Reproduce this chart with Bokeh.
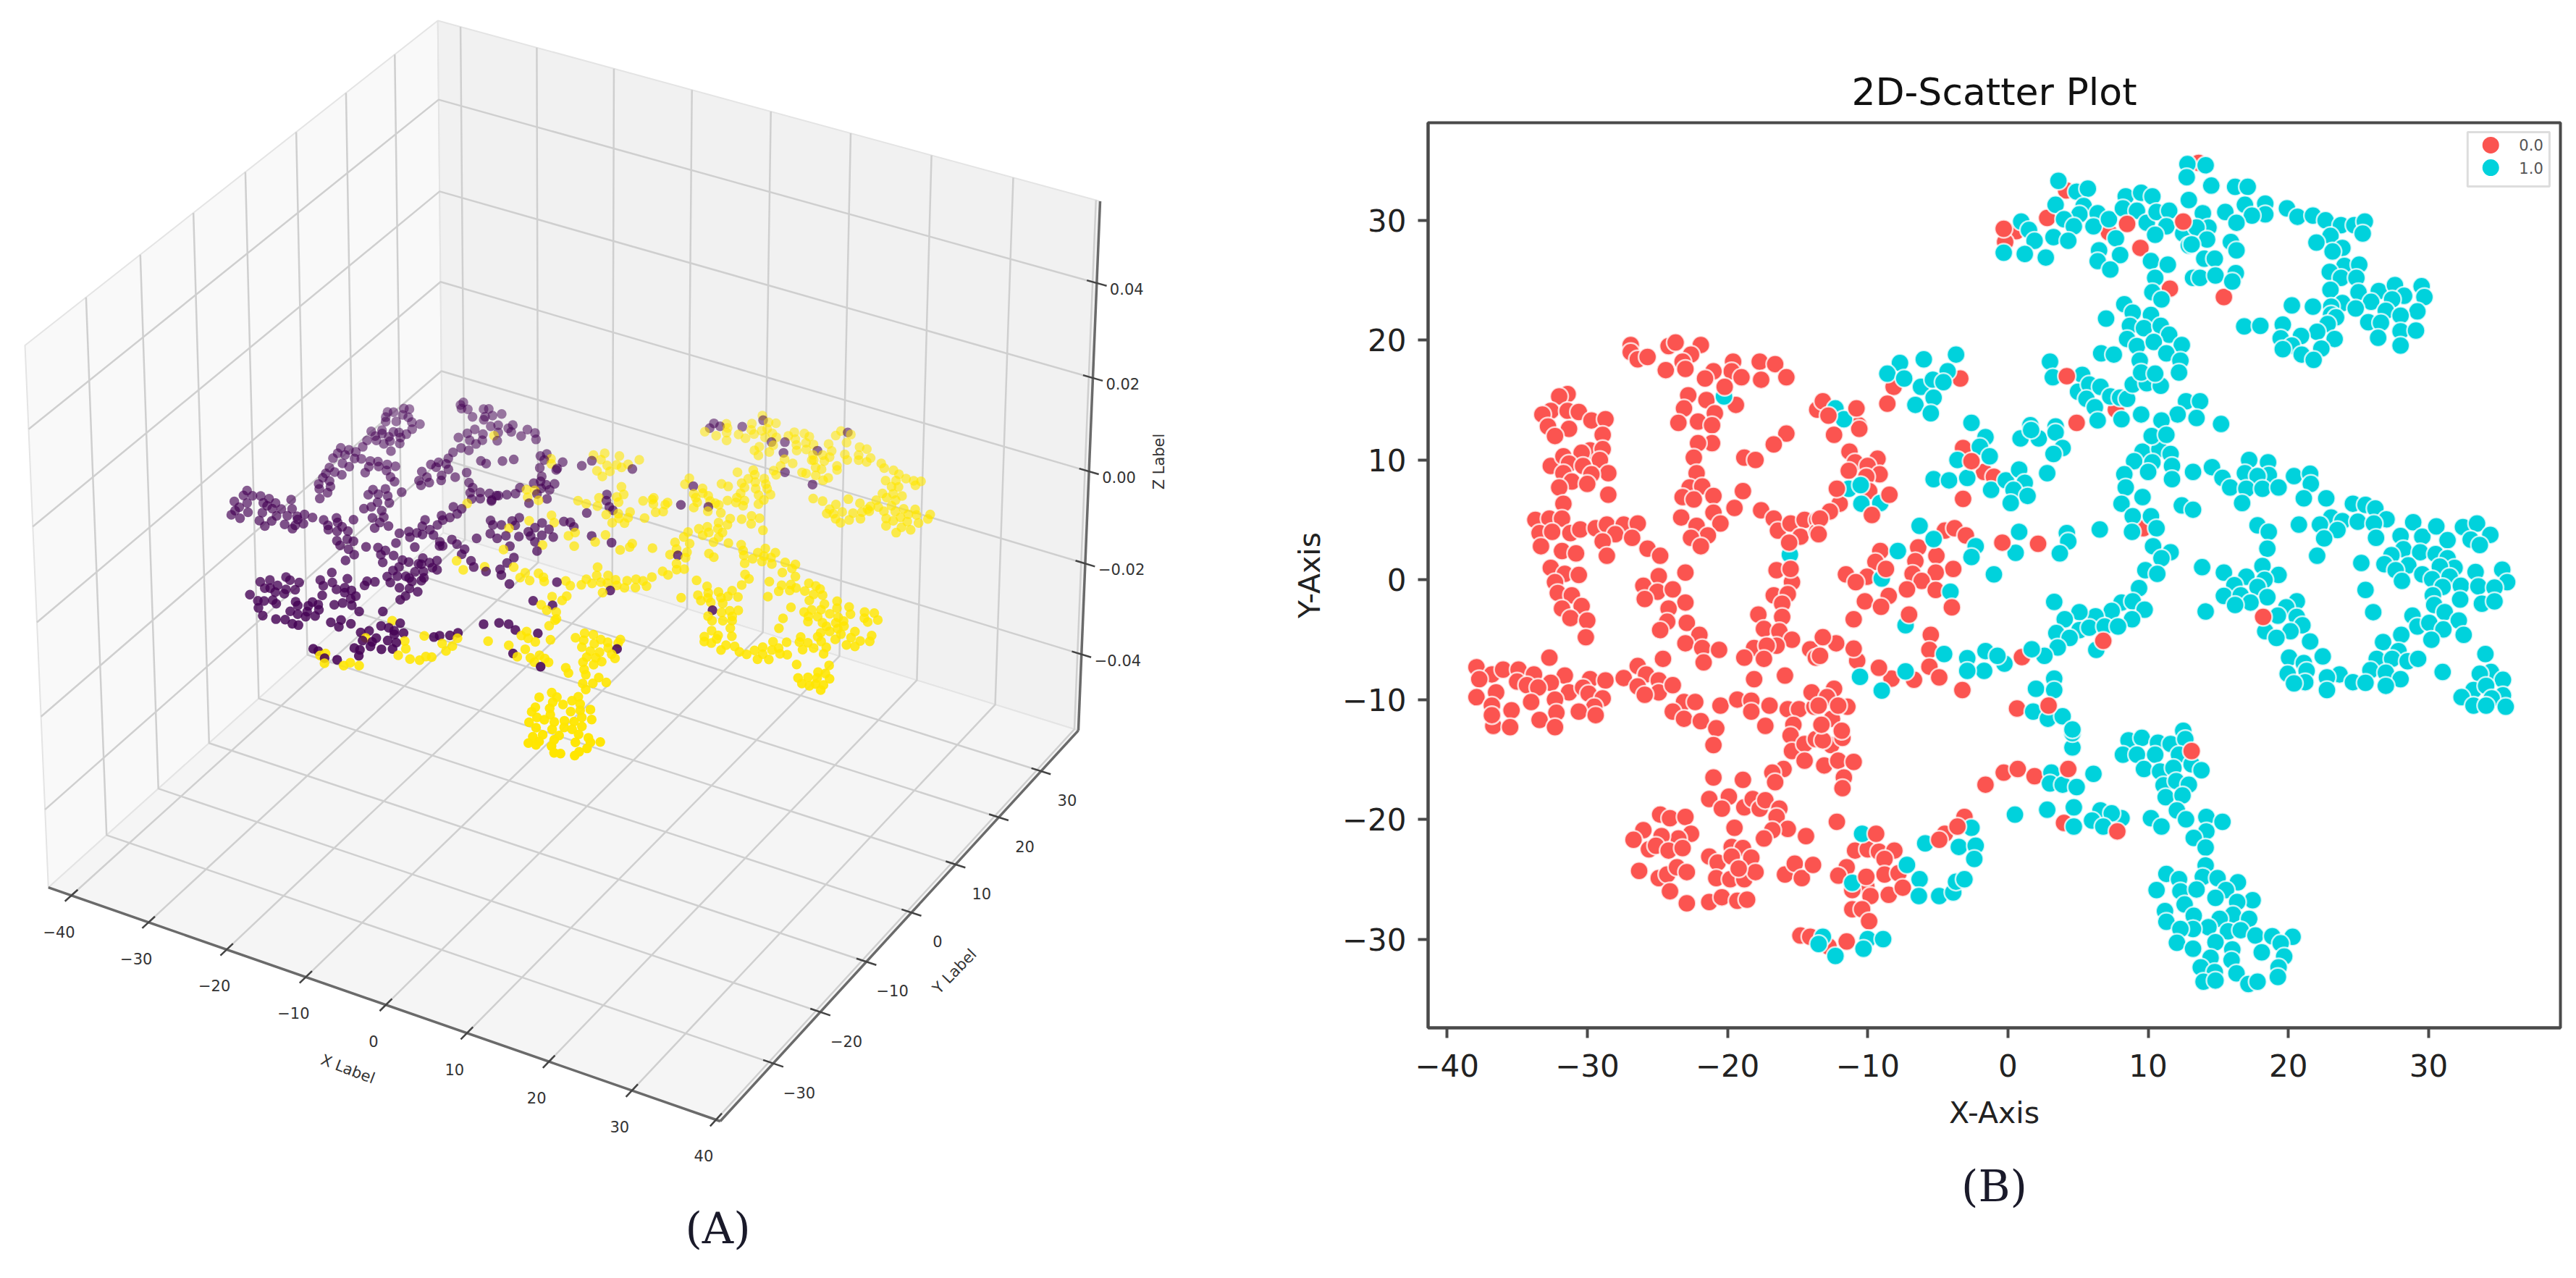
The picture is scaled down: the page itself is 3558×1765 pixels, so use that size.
import numpy as np
from bokeh.embed import file_html
from bokeh.resources import INLINE
from bokeh.layouts import row, column
from bokeh.models import Range1d, FixedTicker, Title
from bokeh.plotting import figure
from bokeh.core.properties import value

# ---------- data: t-SNE coordinates ----------
class0_back = [
(-26.9,19.6),(-26.9,19.0),(-26.4,18.4),(-25.7,18.6),(-24.2,19.5),(-23.7,19.8),(-21.9,19.6),(-22.6,18.8),(-23.2,18.2),(-24.4,17.5),
(-23.0,17.6),(-19.6,18.2),(-19.7,17.4),(-21.0,17.4),(-21.6,16.8),(-19.0,16.9),(-17.7,18.2),(-16.6,18.0),(-17.6,16.7),(-15.8,16.9),
(-19.4,14.6),(-22.8,15.4),(-21.5,15.0),(-23.1,14.3),(-20.9,13.9),(-23.5,13.1),(-22.1,13.2),(-21.1,12.9),(-31.4,15.5),(-32.0,15.3),
(-32.6,14.1),(-31.4,14.1),(-30.6,14.0),(-33.2,13.8),(-29.7,13.3),(-28.7,13.4),(-32.8,12.8),(-31.3,12.6),(-13.6,14.2),
(-32.3,12.0),(-28.9,12.1),(-15.8,12.2),(-16.7,11.3),(-21.1,11.4),(-22.1,11.4),(-22.4,10.2),(-18.8,10.2),(-18.0,10.0),(-22.2,8.9),
(-22.7,7.7),(-21.8,7.8),(-21.0,7.0),(-18.9,7.4),(-23.2,6.9),(-22.4,6.7),(-19.5,6.0),(-21.0,5.6),(-23.3,5.2),(-20.5,4.7),(-22.2,4.5),
(-21.4,3.7),(-22.6,3.5),(-21.9,2.8),(-17.6,5.8),(-16.7,5.1),(-16.4,4.1),(-15.5,4.7),(-14.5,5.0),(-14.8,3.6),(-13.6,5.0),(-13.6,4.0),
(-16.5,0.8),(-15.4,-0.2),(-16.7,-1.3),(-15.7,-1.2),(-16.1,-2.0),(-17.8,-2.9),(-16.1,-3.1),(-17.4,-4.1),(-16.3,-4.3),(-15.4,-5.0),
(-18.1,-5.7),(-16.5,-5.5),(-17.2,-5.5),(-18.8,-6.5),(-17.4,-6.6),(-18.1,-8.3),(-15.9,-8.0),(-14.1,-5.8),(-13.7,-6.5),
(-32.6,9.5),(-31.7,10.3),(-29.8,10.8),(-30.4,10.6),(-28.9,10.9),(-31.3,9.7),(-29.1,10.0),(-30.3,9.5),(-28.5,8.9),(-31.7,8.9),(-31.1,8.2),
(-29.7,8.8),(-30.0,8.0),(-32.0,7.7),(-28.5,7.1),(-31.7,6.35),(-33.7,5.0),(-32.7,5.1),(-31.8,5.1),(-33.4,3.9),(-32.5,4.0),(-33.3,2.8),
(-31.2,3.9),(-30.5,4.2),(-29.4,4.3),(-28.6,4.6),(-27.4,4.6),(-26.4,4.7),(-28.0,3.8),(-28.9,3.2),(-26.8,3.5),(-25.7,2.6),(-24.8,2.0),
(-28.6,2.0),(-31.8,2.4),(-30.8,2.2),(-32.6,1.0),(-31.6,0.5),(-30.6,0.4),(-32.3,-0.2),(-32.1,-1.1),(-31.1,-1.3),(-31.8,-2.4),(-30.4,-2.2),
(-31.2,-3.2),(-30.0,-3.4),(-30.1,-4.8),(-23.0,0.6),(-24.9,0.3),(-26.0,-0.5),(-25.0,-1.0),(-25.9,-1.6),(-23.9,-0.8),(-23.0,-1.9),(-24.2,-2.4),
(-24.3,-3.5),(-24.8,-4.2),(-22.9,-3.6),(-22.0,-4.6),(-23.0,-5.3),(-21.8,-5.7),(-20.6,-5.85),(-21.7,-6.9),
(-32.7,-6.5),(-37.9,-7.3),(-36.8,-7.9),(-37.7,-8.3),(-36.0,-7.5),(-34.9,-7.5),(-33.8,-7.9),(-31.6,-8.0),(-32.6,-8.6),(-35.0,-8.5),(-34.3,-8.8),
(-33.5,-9.0),(-36.5,-9.4),(-37.9,-9.8),(-31.3,-9.4),(-34.0,-10.2),(-36.8,-10.5),(-35.4,-10.9),(-32.3,-10.0),(-29.8,-8.3),(-28.7,-8.4),(-30.3,-9.0),
(-29.9,-9.5),(-28.9,-9.9),(-29.5,-10.6),(-30.6,-11.0),(-29.4,-11.3),(-32.2,-11.1),(-33.4,-11.7),(-36.7,-12.2),(-35.5,-12.3),(-36.8,-11.3),(-32.3,-12.3),
(-27.4,-8.2),(-26.4,-7.2),(-24.6,-6.6),(-25.8,-7.9),(-26.4,-8.9),(-24.9,-8.4),(-24.9,-9.4),(-25.9,-9.6),(-23.9,-8.8),(-23.1,-10.2),(-22.3,-10.2),
(-23.9,-11.0),(-23.1,-11.6),(-21.9,-11.8),(-20.8,-12.4),(-20.5,-10.5),(-19.3,-10.0),(-18.3,-10.1),(-18.3,-11.0),(-17.0,-10.5),(-17.3,-12.2),
(-15.7,-10.8),(-14.9,-10.8),(-15.3,-12.1),(-13.8,-10.6),(-14.0,-9.4),
(-21.0,-13.8),(-15.5,-13.0),(-15.4,-14.3),(-14.5,-13.7),(-14.5,-15.1),(-13.7,-13.3),(-21.0,-16.5),(-18.9,-16.7),(-16.0,-15.8),(-16.8,-16.1),(-16.6,-16.9),
(-21.3,-18.3),(-19.9,-18.1),(-20.4,-19.1),(-18.8,-19.0),(-18.2,-18.3),(-17.7,-19.1),(-17.3,-18.4),(-16.3,-19.1),(-16.5,-19.8),(-15.7,-20.8),(-16.8,-20.9),
(-17.4,-21.6),(-19.5,-20.7),(-14.4,-21.4),(-24.8,-19.6),(-24.1,-19.9),(-23.0,-19.8),(-22.6,-21.2),(-23.5,-21.6),(-24.7,-21.4),(-26.0,-20.9),(-26.7,-21.7),
(-25.6,-22.5),(-25.1,-22.2),(-24.2,-22.6),(-23.2,-22.4),(-26.3,-24.3),(-24.9,-24.9),(-24.3,-24.6),(-23.6,-24.0),(-22.9,-24.4),(-24.1,-26.0),(-22.9,-27.0),
(-21.3,-26.9),(-20.4,-26.5),(-19.3,-26.8),(-18.6,-26.7),(-21.3,-23.1),(-20.7,-23.6),(-19.7,-22.3),(-18.9,-22.4),(-19.7,-23.1),(-18.3,-23.2),(-20.8,-24.9),
(-19.8,-25.0),(-18.8,-25.0),(-18.0,-24.4),(-19.2,-24.1),(-15.9,-24.6),(-15.2,-23.7),(-14.7,-24.9),(-13.9,-23.8),(-14.8,-29.7),(-14.1,-29.8),
(-12.6,-13.8),(-11.8,-13.2),(-13.2,-13.4),(-13.1,-15.5),(-12.1,-15.1),(-11.0,-15.2),(-11.7,-16.5),(-11.8,-17.4),(-12.2,-20.2),(-10.9,-22.6),(-10.0,-22.5),
(-9.2,-22.7),(-8.1,-22.6),(-8.8,-23.3),(-11.5,-24.0),(-12.1,-24.7),(-8.8,-24.6),(-7.8,-24.5),(-10.1,-25.6),(-11.1,-25.9),(-9.8,-26.4),(-8.5,-26.3),(-7.5,-25.7),
(-11.1,-27.5),(-10.4,-27.5),(-9.9,-28.5),(-4.5,-21.2),(-3.1,-19.8),(-1.6,-17.1),(-0.3,-16.1),(0.7,-15.8),(1.9,-16.4),(4.0,-20.3),
(-12.8,-30.6),(-11.5,-30.2),
(4.15,32.5),(2.8,30.2),(7.2,29.0),(9.45,27.7),(11.55,24.3),(0.6,29.1),(-0.2,28.2),(7.7,14.2),(4.9,13.1),(-3.4,16.8),(-8.15,16.1),(-8.6,14.7),
(-13.2,14.9),(-10.65,12.9),(-12.4,12.1),(-10.6,12.6),(-3.2,11.0),(-1.7,9.0),(-1.0,8.6),(-3.2,6.75),(-11.3,10.7),(-9.3,10.1),(-10.9,9.8),(-10.0,9.5),
(-9.15,8.8),(-11.35,9.1),(-10.1,8.6),(-9.9,7.4),(-12.0,6.35),(-12.7,5.7),(-13.4,5.1),(-13.5,3.8),(-4.5,4.1),(-3.8,4.3),(-3.0,3.7),(-9.1,2.4),(-6.4,2.7),(-5.1,2.0),
(-9.45,1.5),(-6.6,1.55),(-3.9,0.9),(-11.55,0.45),(-10.05,0.25),(-10.85,-0.2),(-6.8,0.5),(-5.15,0.6),(-6.15,-0.1),(-7.2,-0.8),(-5.15,-0.85),(-8.5,-1.35),(-10.2,-1.8),
(-9.05,-2.25),(-11.0,-3.3),(2.15,3.0),(9.65,4.3),(1.0,-6.45),(-5.5,-4.6),(-5.6,-5.85),(-5.6,-7.25),(-4.9,-8.15),(-3.25,-9.2),(-6.7,-8.35),(-8.3,-8.25),(-9.2,-7.35),
(-10.75,-6.75),(-11.0,-5.75),(-12.25,-5.3),(-13.2,-4.8),(-13.4,-6.35),(-12.4,-9.1),(-12.9,-9.8),(-11.45,-10.6),(-13.5,-10.5),(-12.55,-11.6),(-13.3,-12.1),(-11.85,-12.6),
(-12.1,-10.5),(0.65,-10.75),(13.6,34.8),(15.4,23.6),
]

class1_main = [
(-20.25,15.3),(-15.55,2.1),(-11.1,-25.3),(-10.4,-21.2),(-7.2,-23.8),(-6.3,-25.0),(-6.35,-26.4),(-4.9,-26.4),(-3.9,-26.1),(-3.7,-25.2),(-3.1,-25.0),(-5.9,-22.0),
(-2.6,-20.7),(-3.5,-22.3),(-2.3,-22.2),(-2.4,-23.3),(3.1,-16.1),(3.0,-17.0),(3.9,-17.1),(4.9,-17.3),(6.1,-16.2),(0.5,-19.6),(2.8,-19.2),(4.7,-19.0),(4.7,-20.6),
(6.6,-19.25),(8.1,-19.9),(7.4,-19.5),(6.0,-20.1),(6.8,-20.6),(10.2,-19.9),(10.95,-20.6),(4.6,-14.0),(4.6,-12.8),(-12.3,-31.4),(-13.2,-29.8),(-13.5,-30.4),(-10.0,-30.0),
(-10.3,-30.8),(-8.9,-30.0),
(3.6,33.3),(4.9,32.4),(5.7,32.65),(3.4,31.3),(5.4,31.2),(5.1,30.5),(4.0,30.1),(4.7,29.5),(6.4,30.6),(6.1,29.5),(7.2,30.1),(7.7,28.5),(8.4,32.0),(8.2,31.0),(9.5,32.3),
(10.3,32.0),(9.2,30.8),(9.9,29.8),(10.6,30.7),(11.5,30.8),(11.3,29.5),(10.5,28.8),(12.5,28.9),(12.9,27.9),(12.8,34.7),(12.75,33.6),(12.9,31.7),(0.95,29.9),(1.5,29.2),
(1.9,28.3),(-0.3,27.3),(1.2,27.2),(2.7,26.9),(3.25,28.6),(4.3,28.3),(6.5,27.5),(8.0,27.1),(6.4,26.6),(7.3,25.9),(10.2,26.6),(11.4,26.3),(10.5,25.2),(10.3,24.0),(10.95,23.4),
(13.2,25.2),(8.3,23.0),(8.9,22.3),(10.2,22.1),(7.0,21.8),(8.7,21.2),(9.7,21.0),(10.9,21.2),(11.5,20.45),(8.5,20.1),(9.2,19.5),(10.4,19.85),(12.4,19.6),(11.3,18.9),(6.65,18.9),
(7.55,18.8),(9.4,18.3),(12.3,18.3),(12.2,17.3),(3.0,18.2),(3.2,16.9),(5.3,17.1),(5.0,15.7),(5.8,16.3),(6.6,16.1),(7.3,15.3),(5.6,15.1),(6.2,14.4),(8.0,15.2),(8.5,15.1),
(6.4,13.3),(8.1,13.4),(9.5,13.8),(8.9,16.3),(9.9,16.4),(10.9,16.2),(9.5,17.3),(10.5,17.2),(12.7,14.9),(12.1,13.8),(10.95,13.3),(1.6,12.9),(3.4,12.8),(-2.6,13.1),
(-3.7,18.8),(-6.0,18.4),(-7.7,18.1),(-8.6,17.2),(-7.4,16.8),(-4.3,17.4),(-6.2,16.1),(-5.35,16.7),(-4.6,16.5),(-5.3,15.2),(-6.6,14.6),(-5.5,13.9),(-12.3,14.3),(-11.7,13.4),
(-1.6,11.9),(0.9,11.8),(2.2,11.8),(1.65,12.5),(3.4,12.3),(3.9,11.0),(3.25,10.5),(2.8,8.9),(-2.0,11.1),(-3.6,10.0),(-1.3,10.3),(-5.3,8.4),(-4.2,8.3),(-2.9,8.5),(-1.2,7.5),
(-0.15,8.3),(0.8,9.2),(1.2,8.1),(0.4,7.5),(1.4,7.0),(0.2,6.4),(-11.35,7.6),(-10.5,7.9),(-10.45,6.35),(-9.1,6.4),(-6.3,4.5),(-5.3,3.4),(-2.3,2.8),(-2.6,1.9),(-7.85,2.4),
(-9.0,0.1),(-4.1,-1.0),(-7.3,-3.8),(-1.0,0.45),(0.8,4.0),(0.55,2.25),(4.2,3.9),(4.3,3.2),(3.7,2.2),(6.55,4.2),(3.3,-1.85),(9.6,10.7),(10.8,10.9),(10.25,12.0),(11.3,12.1),
(9.0,9.9),(10.3,9.8),(11.6,10.5),(11.7,9.5),(10.0,9.0),(8.3,8.8),(11.7,8.4),(8.4,7.7),(9.6,6.9),(8.1,6.35),(13.2,9.0),(12.4,6.2),(13.2,5.85),(8.9,5.3),(10.2,5.3),(10.6,4.3),
(8.85,4.0),(10.35,2.8),(11.6,2.3),(10.95,1.8),(9.8,0.8),(10.65,0.5),(9.35,-0.7),(8.1,-1.9),(8.9,-1.8),(9.75,-2.5),(7.4,-2.6),(8.85,-3.3),(6.25,-3.05),(5.1,-2.7),(4.05,-3.3),
(5.1,-4.2),(5.8,-4.0),(6.9,-3.9),(7.85,-3.9),(3.45,-4.45),(4.4,-4.85),(6.3,-5.85),(3.55,-5.65),(2.6,-6.35),(1.7,-5.8),(-0.25,-7.0),(-1.6,-5.95),(-2.9,-6.55),(-1.7,-7.6),
(-2.9,-7.6),(-0.75,-6.35),(-4.55,-6.2),(-7.3,-7.65),(-9.0,-9.25),(-10.55,-8.1),(1.8,-11.0),(2.0,-9.1),(3.3,-8.25),(3.3,-9.2),(2.85,-11.6),(3.9,-11.4),(4.6,-12.5),(12.5,-12.6),
(14.1,34.6),(14.5,32.9),(16.2,32.8),(17.1,32.8),(13.9,30.6),(16.9,31.3),(15.5,30.7),(18.35,31.4),(18.35,30.5),(17.4,30.4),(16.3,29.8),(19.9,31.0),(20.65,30.3),(21.75,30.4),
(22.65,30.0),(23.75,29.6),(24.7,29.6),(25.45,29.9),(25.3,28.9),(23.0,28.7),(14.3,29.4),(13.45,29.4),(14.2,28.4),(13.1,28.0),(15.9,28.2),(16.3,27.5),(22.0,28.15),(23.85,27.7),
(23.15,27.4),(14.0,26.8),(14.75,26.8),(13.7,25.2),(14.8,25.4),(16.25,25.6),(16.0,24.9),(24.0,26.2),(25.05,26.3),(22.95,25.7),(23.75,25.2),(24.85,25.2),(23.0,24.2),(25.0,24.0),
(26.45,24.1),(27.6,24.6),(29.5,24.5),(28.25,23.7),(29.7,23.6),(27.4,23.4),(25.9,23.2),(23.85,23.1),(23.05,22.8),(24.8,22.65),(20.25,22.9),(21.75,22.8),(26.95,22.45),(29.2,22.4),
(28.0,22.05),(23.05,22.15),(23.4,21.9),(25.7,21.5),(26.6,21.45),(16.85,21.15),(18.0,21.2),(19.6,21.3),(22.8,21.35),(22.05,20.7),(28.0,20.75),(29.1,20.8),(26.4,20.2),(19.45,20.15),
(20.9,20.35),(23.3,20.1),(20.25,19.55),(19.6,19.25),(22.35,19.3),(28.0,19.55),(20.95,18.8),(21.8,18.35),(13.7,14.9),(13.45,13.5),(15.2,13.0),
(17.2,10.0),(18.55,9.8),(14.55,9.4),(16.9,8.9),(18.6,8.75),(15.3,8.5),(17.8,8.65),(20.4,8.65),(21.55,8.85),(15.85,7.7),(17.0,7.6),(18.15,7.6),(19.3,7.7),(21.6,8.0),(21.1,6.8),
(22.7,6.8),(16.7,6.4),(24.6,6.35),(25.5,6.25),(26.2,5.95),(27.0,5.05),(23.05,5.2),(23.85,4.9),(24.95,4.85),(26.1,4.7),(22.25,4.6),(17.8,4.55),(18.6,4.0),(20.75,4.6),(23.5,4.15),
(22.55,3.45),(26.25,3.5),(28.9,4.8),(28.0,3.65),(29.55,3.6),(30.55,4.45),(31.35,3.3),(32.45,4.4),(33.45,4.7),(34.4,3.75),(33.0,3.35),(33.65,2.9),(18.5,2.6),(22.05,2.0),(28.2,2.55),
(27.35,2.05),(29.4,2.3),(30.5,2.15),(31.35,1.8),(25.2,1.4),(26.85,1.3),(28.55,1.2),(13.85,1.05),(15.4,0.6),(18.15,1.15),(19.3,0.4),(17.0,0.25),(18.3,0.0),(35.25,0.85),(33.35,0.65),
(31.85,1.0),(30.8,1.1),(27.65,0.8),(29.55,0.45),(28.1,-0.1),(30.25,0.05),(31.5,0.25),(35.6,-0.2),(31.0,-0.6),(32.3,-0.5),(33.55,-0.55),(34.7,-0.65),(16.15,-0.45),(17.8,-0.6),(25.5,-0.85),
(15.4,-1.35),(16.6,-1.3),(18.5,-1.45),(30.3,-1.3),(20.6,-1.8),(17.3,-1.9),(16.2,-2.1),(32.25,-1.65),(33.8,-2.0),(34.7,-1.8),(14.1,-2.65),(19.85,-2.3),(30.4,-2.1),(26.05,-2.7),(31.15,-2.7),
(19.25,-3.0),(20.6,-3.1),(28.85,-3.0),(32.15,-3.4),(21.0,-3.8),(29.2,-3.9),(30.05,-3.6),(31.05,-4.15),(18.35,-4.3),(20.15,-4.3),(19.15,-4.85),(28.05,-4.6),(32.5,-4.6),(30.2,-5.0),(21.55,-5.15),
(26.75,-5.2),(27.85,-5.95),(34.05,-6.2),(20.05,-6.5),(22.45,-6.4),(21.1,-6.95),(26.3,-6.6),(27.4,-6.6),(28.5,-6.8),(29.25,-6.6),(21.3,-7.6),(25.85,-7.55),(26.95,-7.75),(31.0,-7.7),
(34.45,-7.7),(33.65,-7.85),(19.95,-7.85),(23.65,-7.9),(22.75,-8.15),(28.0,-8.3),(35.3,-8.35),(21.2,-8.55),(20.4,-8.65),(24.6,-8.55),(25.5,-8.6),(26.95,-8.85),(22.75,-9.2),(33.2,-9.2),
(34.1,-8.85),(35.3,-9.65),(32.35,-9.8),(34.5,-9.9),(33.2,-10.5),(35.5,-10.6),(34.1,-10.5),
(8.6,-13.4),(9.55,-13.2),(8.2,-14.6),(9.2,-14.6),(10.7,-13.6),(11.6,-13.7),(12.65,-13.3),(10.5,-14.6),(12.2,-14.6),(9.7,-15.8),(10.85,-16.0),(11.8,-15.7),(13.1,-15.4),(13.8,-15.9),
(11.1,-17.15),(12.0,-16.8),(12.9,-17.1),(11.25,-18.15),(12.45,-18.0),(12.05,-19.25),(12.7,-20.0),(14.15,-19.8),(15.3,-20.2),(14.15,-21.0),(13.25,-21.55),(14.1,-22.35),(14.1,-23.85),
(11.3,-24.55),(12.2,-25.0),(13.9,-24.8),(14.95,-24.9),(16.4,-25.25),(10.6,-25.9),(12.3,-26.0),(13.45,-25.85),(15.55,-25.9),(14.8,-26.55),(17.45,-26.75),(16.35,-26.9),(12.6,-27.1),
(11.2,-27.65),(16.05,-27.95),(13.25,-28.05),(17.2,-28.3),(11.3,-28.55),(15.1,-28.3),(14.3,-29.0),(13.2,-29.15),(12.3,-29.15),(15.7,-29.35),(16.6,-29.25),(17.65,-29.7),(18.85,-29.75),
(20.3,-29.8),(19.45,-30.35),(12.05,-30.3),(14.8,-30.25),(13.2,-30.8),(18.1,-31.1),(16.0,-30.85),(19.7,-31.45),(14.45,-31.55),(15.95,-31.75),(13.75,-32.35),(19.3,-32.35),(14.75,-32.75),
(16.3,-32.85),(19.25,-33.15),(13.95,-33.55),(14.8,-33.45),(17.15,-33.75),(17.8,-33.55),
]

class0_front = [
(-20.2,16.1),(-15.6,3.1),(-15.5,0.9),(-2.6,9.9),(-8.7,0.9),(-7.05,-2.9),(6.8,-5.1),(2.9,-10.5),(7.8,-21.0),(13.1,-14.3),(-12.8,13.7),(-10.8,14.3),(-4.0,-2.3),(-4.9,-21.7),(-3.6,-20.6),
(-10.1,-24.8),(-9.4,-21.2),(4.3,-15.8),(-12.2,7.6),(-8.45,7.1),(-9.7,5.4),(4.2,17.0),(12.5,29.9),(8.5,29.7),(-0.3,29.3),(-0.4,3.1),(18.2,-3.1),
]

x_ticks_2d = [-40, -30, -20, -10, 0, 10, 20, 30]
y_ticks_2d = [-30, -20, -10, 0, 10, 20, 30]
x_ticks_3d = [-40, -30, -20, -10, 0, 10, 20, 30, 40]
y_ticks_3d = [-30, -20, -10, 0, 10, 20, 30]
z_ticks_3d = [-0.04, -0.02, 0.0, 0.02, 0.04]
legend_labels = ["0.0", "1.0"]

RED, TEAL = "#FB5450", "#00D2DC"
PURPLE, YELLOW = "#440154", "#FFE600"
FONT = "DejaVu Sans"
SERIF = "DejaVu Serif"

def fmt(v):
    return str(v).replace("-", "\u2212")

# ---------- panel A: a true 3D view projected the way mplot3d does it ----------
xlim3 = (-43.0, 40.5)
ylim3 = (-41.0, 39.0)
zlim3 = (-0.057, 0.057)
box = np.array([4.0, 4.0, 3.0]) / np.linalg.norm([4, 4, 3]) * 1.8295
elev, azim, dist = np.radians(30), np.radians(-60), 10.0
center = box / 2
eye = center + dist * np.array([np.cos(elev) * np.cos(azim), np.cos(elev) * np.sin(azim), np.sin(elev)])
w = (eye - center) / np.linalg.norm(eye - center)
u = np.cross([0, 0, 1], w); u /= np.linalg.norm(u)
v = np.cross(w, u)

def raw(x, y, z):
    x, y, z = np.asarray(x, float), np.asarray(y, float), np.asarray(z, float)
    p = np.stack([(x - xlim3[0]) / (xlim3[1] - xlim3[0]) * box[0],
                  (y - ylim3[0]) / (ylim3[1] - ylim3[0]) * box[1],
                  (z - zlim3[0]) / (zlim3[1] - zlim3[0]) * box[2]], axis=-1) - eye
    d = -(p @ w)
    return (p @ u) / d, (p @ v) / d, d

cx, cy, _ = raw([xlim3[i] for i in (0, 0, 0, 0, 1, 1, 1, 1)],
                [ylim3[i] for i in (0, 0, 1, 1, 0, 0, 1, 1)],
                [zlim3[i] for i in (0, 1, 0, 1, 0, 1, 0, 1)])
PX0, PX1, PY0, PY1 = 34.0, 1519.0, 28.0, 1548.0
sx_ = (PX1 - PX0) / (cx.max() - cx.min())
sy_ = (PY1 - PY0) / (cy.max() - cy.min())

def proj(x, y, z):
    X, Y, _ = raw(x, y, z)
    return PX0 + (X - cx.min()) * sx_, PY1 - (Y - cy.min()) * sy_

xa, xb = xlim3; ya, yb = ylim3; za, zb = zlim3

a = figure(width=1780, height=1757, x_range=Range1d(0, 1780), y_range=Range1d(1757, 0),
           x_axis_type=None, y_axis_type=None, toolbar_location=None, output_backend="svg",
           min_border=0, outline_line_color=None, background_fill_color="white")
a.grid.visible = False

def poly(corners, color):
    px, py = proj(*np.array(corners).T)
    a.patch(list(px), list(py), fill_color=color, line_color="#e4e4e4", line_width=2)

poly([(xa, ya, za), (xa, yb, za), (xa, yb, zb), (xa, ya, zb)], "#F9F9F9")
poly([(xa, yb, za), (xb, yb, za), (xb, yb, zb), (xa, yb, zb)], "#F1F1F1")
poly([(xa, ya, za), (xb, ya, za), (xb, yb, za), (xa, yb, za)], "#F5F5F5")

gx, gy = [], []
def grid3(points):
    px, py = proj(*np.array(points).T)
    gx.append(list(px)); gy.append(list(py))
for t in x_ticks_3d:
    grid3([(t, ya, za), (t, yb, za), (t, yb, zb)])
for t in y_ticks_3d:
    grid3([(xb, t, za), (xa, t, za), (xa, t, zb)])
for t in z_ticks_3d:
    grid3([(xa, ya, t), (xa, yb, t), (xb, yb, t)])
a.multi_line(gx, gy, line_color="#CFCFCF", line_width=2.5)

ax_x, ax_y = [], []
for pts in ([(xa, ya, za), (xb, ya, za)], [(xb, ya, za), (xb, yb, za)], [(xb, yb, za), (xb, yb, zb)]):
    px, py = proj(*np.array(pts).T)
    ax_x.append(list(px)); ax_y.append(list(py))
a.multi_line(ax_x, ax_y, line_color="#6a6a6a", line_width=3.5)

tx, ty = [], []
for t in x_ticks_3d:
    px, py = proj([t, t], [ya + 1.2, ya - 1.2], [za, za]); tx.append(list(px)); ty.append(list(py))
for t in y_ticks_3d:
    px, py = proj([xb - 1.2, xb + 1.2], [t, t], [za, za]); tx.append(list(px)); ty.append(list(py))
for t in z_ticks_3d:
    px, py = proj([xb - 1.2, xb + 1.2], [yb, yb], [t, t]); tx.append(list(px)); ty.append(list(py))
a.multi_line(tx, ty, line_color="#444444", line_width=2.5)

# scatter on the plane z = 0, sorted far to near, with depth shading
pts0 = np.array(class0_back + class0_front)
pts1 = np.array(class1_main)
all_x = np.r_[pts0[:, 0], pts1[:, 0]]
all_y = np.r_[pts0[:, 1], pts1[:, 1]]
all_c = [PURPLE] * len(pts0) + [YELLOW] * len(pts1)
sxp, syp = proj(all_x, all_y, np.zeros_like(all_x))
_, _, dep = raw(all_x, all_y, np.zeros_like(all_x))
alpha = 1 - 0.5 * (dep - dep.min()) / (dep.max() - dep.min())
order = np.argsort(-dep)
PLANE_DX, PLANE_DY = -10, 9  # small registration of the point plane within the view
a.scatter(sxp[order] + PLANE_DX, syp[order] + PLANE_DY, size=13.5, fill_color=[all_c[i] for i in order],
          fill_alpha=alpha[order], line_color=None)

def text3(x, y, s, size="21px", angle=0, align="center", color="#333333", font=FONT):
    a.text([x], [y], text=[s], text_font=value(font), text_font_size=size, text_color=color,
           text_align=align, text_baseline="middle", angle=angle)

for t in x_ticks_3d:
    px, py = proj(t, ya, za)
    text3(float(px) - 17, float(py) + 50, fmt(t))
for t in y_ticks_3d:
    px, py = proj(xb, t, za)
    text3(float(px) + 36, float(py) + 40, fmt(t))
for t in z_ticks_3d:
    px, py = proj(xb, yb, t)
    text3(float(px) + 18, float(py) + 8, fmt(f"{t:.2f}"), align="left")
text3(480, 1476, "X Label", angle=-0.36)
text3(1318, 1341, "Y Label", angle=0.80)
text3(1600, 637, "Z Label", angle=np.pi / 2)
text3(991, 1695, "(A)", size="60px", font=SERIF, color="#1a1a2a")

# ---------- panel B ----------
b = figure(width=1770, height=1757, x_range=Range1d(-41.35, 39.4), y_range=Range1d(-37.4, 38.15),
           toolbar_location=None, output_backend="svg", min_border_left=192, min_border_right=14,
           min_border_top=169, min_border_bottom=338, background_fill_color="white",
           outline_line_color="#4a4a4a", outline_line_width=4, title="2D-Scatter Plot",
           x_axis_label="X-Axis", y_axis_label="Y-Axis")
b.grid.visible = False
b.title.align = "center"
b.title.text_font = FONT
b.title.text_font_size = "52px"
b.title.text_font_style = "normal"
b.title.text_color = "#111111"
b.title.standoff = 25

for ax in (b.xaxis[0], b.yaxis[0]):
    ax.axis_label_text_font = FONT
    ax.axis_label_text_font_size = "41px"
    ax.axis_label_text_font_style = "normal"
    ax.axis_label_text_color = "#222222"
    ax.major_label_text_font = FONT
    ax.major_label_text_font_size = "42px"
    ax.major_label_text_color = "#222222"
    ax.axis_line_color = "#4a4a4a"
    ax.axis_line_width = 4
    ax.major_tick_line_color = "#4a4a4a"
    ax.major_tick_line_width = 4
    ax.major_tick_out = 14
    ax.major_tick_in = 0
    ax.minor_tick_line_color = None
    ax.major_label_standoff = 16
    ax.axis_label_standoff = 18
b.xaxis[0].major_label_standoff = 22
b.xaxis[0].axis_label_standoff = 23
b.xaxis[0].ticker = FixedTicker(ticks=x_ticks_2d)
b.yaxis[0].ticker = FixedTicker(ticks=y_ticks_2d)
b.xaxis[0].major_label_overrides = {t: fmt(t) for t in x_ticks_2d}
b.yaxis[0].major_label_overrides = {t: fmt(t) for t in y_ticks_2d}
b.yaxis[0].major_label_orientation = "horizontal"

kw = dict(size=25, line_color="white", line_width=2.5, line_alpha=0.75)
back = np.array(class0_back); main = np.array(class1_main); front = np.array(class0_front)
r0 = b.scatter(back[:, 0], back[:, 1], fill_color=RED, **kw)
r1 = b.scatter(main[:, 0], main[:, 1], fill_color=TEAL, **kw)
r2 = b.scatter(front[:, 0], front[:, 1], fill_color=RED, **kw)

# legend box, drawn with glyphs so its keys can be as large as the reference's
b.quad(left=[32.78], right=[38.62], top=[37.36], bottom=[32.83], fill_color="white",
       line_color="#dddddd", line_width=3)
b.scatter([34.43], [36.28], size=23, fill_color=RED, line_color=None)
b.scatter([34.43], [34.4], size=23, fill_color=TEAL, line_color=None)
b.text([36.45, 36.45], [36.28, 34.4], text=legend_labels, text_font=value(FONT), text_font_size="21px",
       text_color="#555555", text_align="left", text_baseline="middle")

caption = Title(text="(B)", align="center", text_font=SERIF, text_font_size="60px",
                text_font_style="normal", text_color="#1a1a2a", standoff=75)
b.add_layout(caption, "below")

open("out.html", "w").write(file_html(row(column(a), column(b), spacing=0), INLINE))
